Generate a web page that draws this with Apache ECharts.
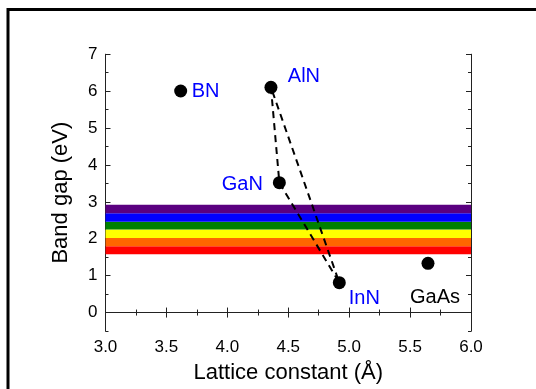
<!DOCTYPE html>
<html>
<head>
<meta charset="utf-8">
<script src="https://cdn.jsdelivr.net/npm/echarts@6/dist/echarts.min.js"></script>
<style>
html,body{margin:0;padding:0;background:#fff;}
#c{width:536px;height:389px;}
</style>
</head>
<body>
<div id="c"></div>
<script>
// ---- data ----
var materials = ['BN', 'AlN', 'GaN', 'InN', 'GaAs'];
var latticeConst = [3.617, 4.358, 4.427, 4.919, 5.647];
var bandGap = [6.006, 6.106, 3.52, 0.81, 1.335];
var tieLine = ['AlN', 'GaN', 'InN', 'AlN'];
var bandEdges = [1.58, 1.80, 2.02, 2.25, 2.46, 2.69, 2.92];
var bandColors = ['#FF0000', '#FF6600', '#FFFF00', '#008000', '#0000FF', '#5A0080'];
var xTicks = [3.0, 3.5, 4.0, 4.5, 5.0, 5.5, 6.0];
var yTicks = [0, 1, 2, 3, 4, 5, 6, 7];
var yMinorTicks = [-0.5, 0.5, 1.5, 2.5, 3.5, 4.5, 5.5, 6.5];

// ---- styling (not data) ----
var FONT = 'Liberation Sans, Arial, sans-serif';
var labelOffsets = {
  'BN':   {off: [25, 1],    color: '#0000FF'},
  'AlN':  {off: [33, -11],  color: '#0000FF'},
  'GaN':  {off: [-37, 2],   color: '#0000FF'},
  'InN':  {off: [25, 16],   color: '#0000FF'},
  'GaAs': {off: [7, 34],    color: '#000000'}
};

var scatterData = materials.map(function (m, i) {
  var s = labelOffsets[m];
  return {
    name: m,
    value: [latticeConst[i], bandGap[i]],
    label: {
      show: true, formatter: m, position: 'inside', offset: s.off,
      align: 'center', verticalAlign: 'middle',
      color: s.color, fontSize: 20, fontFamily: FONT, opacity: 1
    }
  };
});
var lineData = tieLine.map(function (m) {
  var i = materials.indexOf(m);
  return [latticeConst[i], bandGap[i]];
});
var bandAreas = bandColors.map(function (c, i) {
  return [
    {yAxis: bandEdges[i], xAxis: 3, itemStyle: {color: c, opacity: 1}},
    {yAxis: bandEdges[i + 1], xAxis: 6}
  ];
});

var axisLineStyle = {show: true, lineStyle: {color: '#222', width: 1}};
var grid = {left: 105.5, right: 65, top: 54.3, bottom: 58, containLabel: false, outerBoundsMode: 'none'};

function xAx(pos, labels) {
  return {
    type: 'value', position: pos, min: 3, max: 6, interval: 0.5,
    axisLine: axisLineStyle,
    axisTick: {show: true, inside: true, length: 5, lineStyle: {color: '#222'}},
    minorTick: {show: true, splitNumber: 2, length: 3, lineStyle: {color: '#222'}},
    splitLine: {show: false}, minorSplitLine: {show: false},
    axisLabel: {show: labels, margin: 8, fontSize: 17, color: '#000', fontFamily: FONT,
      formatter: function (v) { return v.toFixed(1); }},
    name: labels ? 'Lattice constant (\u00C5)' : '',
    nameLocation: 'middle', nameGap: 31,
    nameTextStyle: {fontSize: 22, color: '#000', fontFamily: FONT}
  };
}
function yAx(pos, labels, ticks, len, title) {
  return {
    type: 'value', position: pos, min: -0.5, max: 7,
    axisLine: axisLineStyle,
    axisTick: {show: true, inside: true, length: len, customValues: ticks, lineStyle: {color: '#222'}},
    splitLine: {show: false},
    axisLabel: {show: labels, margin: 8, fontSize: 17, color: '#000', fontFamily: FONT,
      customValues: yTicks,
      formatter: function (v) { return String(v); }},
    name: title ? 'Band gap (eV)' : '',
    nameLocation: 'middle', nameGap: 34,
    nameTextStyle: {fontSize: 22, color: '#000', fontFamily: FONT}
  };
}

var chart = echarts.init(document.getElementById('c'), null, {renderer: 'canvas'});
chart.setOption({
  animation: false,
  backgroundColor: '#fff',
  grid: grid,
  xAxis: [xAx('bottom', true), xAx('top', false)],
  yAxis: [
    yAx('left', true, yTicks, 5, true),
    yAx('right', false, yTicks, 5, false),
    yAx('left', false, yMinorTicks, 3, false),
    yAx('right', false, yMinorTicks, 3, false)
  ],
  graphic: [{
    type: 'rect', shape: {x: 8, y: 9.5, width: 800, height: 800},
    style: {fill: 'none', stroke: '#000', lineWidth: 3}, z: 100
  }],
  series: [
    {
      type: 'line', data: [], z: 1, silent: true,
      markArea: {silent: true, data: bandAreas}
    },
    {
      type: 'line', data: lineData, z: 2, symbol: 'none', silent: true,
      lineStyle: {color: '#000', width: 2, type: [7, 5]}
    },
    {
      type: 'scatter', data: scatterData, z: 3, symbol: 'circle', symbolSize: 13,
      itemStyle: {color: '#000', opacity: 1}
    }
  ]
});
</script>
</body>
</html>
